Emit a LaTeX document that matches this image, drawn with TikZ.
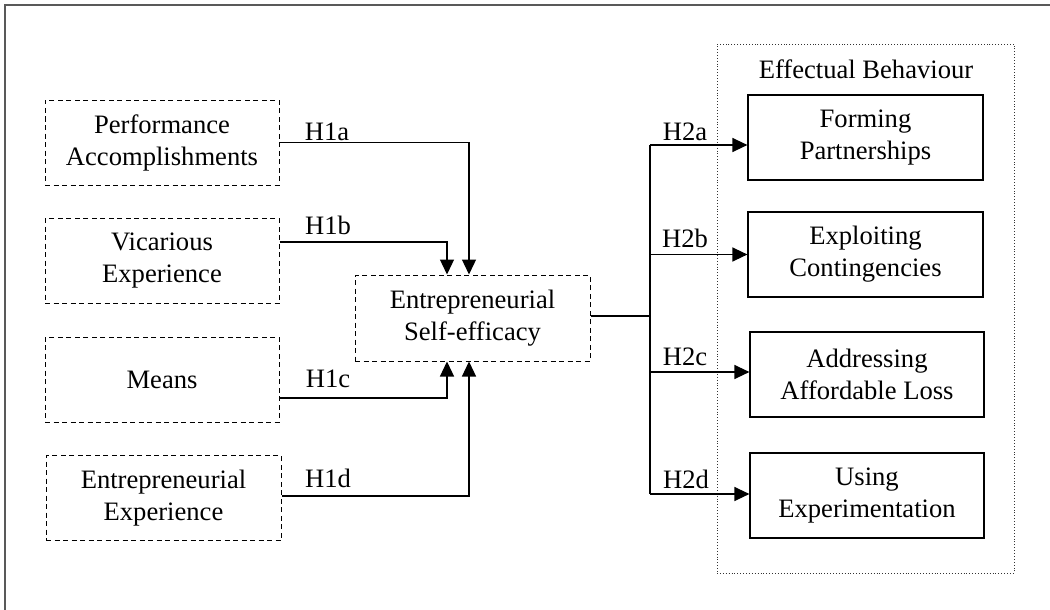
\documentclass[tikz,border=0pt]{standalone}
\usepackage{fontspec}
\setmainfont{Liberation Serif}
\usetikzlibrary{arrows.meta}
\begin{document}
\begin{tikzpicture}[x=1pt,y=-1pt,
  every node/.style={font=\fontsize{26.6}{32}\selectfont, align=center, inner sep=0pt},
  dbox/.style={draw, dash pattern=on 5pt off 3.5pt, line width=1pt, minimum width=234pt, minimum height=85pt},
  sbox/.style={draw, line width=1.2pt, minimum width=235pt, minimum height=85pt},
  conn/.style={line width=1.3pt, -{Triangle[length=15pt,width=14pt]}},
  plain/.style={line width=1.3pt},
  lbl/.style={anchor=base}]
\useasboundingbox (0,0) rectangle (1050,610);
% frame
\draw[line width=1.8pt, black!65] (5,610) -- (5,5) -- (1050,5);
% effectual behaviour group
\node[draw, dotted, line width=0.9pt, black!80, minimum width=297pt, minimum height=529pt] (EB) at (865.5,308.5) {};
\node[lbl] (EBt) at (866,79) {Effectual Behaviour};
% left boxes
\node[dbox] (PA) at (162,142.5) {Performance\\Accomplishments};
\node[dbox] (VE) at (162,261) {Vicarious\\Experience};
\node[dbox] (ME) at (162,379.5) {Means};
\node[dbox, minimum width=235pt] (EE) at (163.5,498) {Entrepreneurial\\Experience};
% centre
\node[dbox, minimum width=235pt, minimum height=86pt] (ESE) at (472.5,318) {Entrepreneurial\\Self-efficacy};
% right boxes
\node[sbox] (FP) at (865.5,137.5) {Forming\\Partnerships};
\node[sbox] (EC) at (865.5,254.5) {Exploiting\\Contingencies};
\node[sbox, minimum width=234pt] (AL) at (867,374.5) {Addressing\\Affordable Loss};
\node[sbox, minimum width=234pt] (UE) at (867,495.5) {Using\\Experimentation};
% helper coordinates
\coordinate (ax1) at (469,0);
\coordinate (ax2) at (447,0);
\coordinate (busTop) at (650,145);
\coordinate (busBot) at (650,494);
% H1 connectors
\draw[conn] (PA.east) -| (ESE.north -| ax1);
\draw[conn] ([yshift=19pt]VE.east) -| (ESE.north -| ax2);
\draw[conn] ([yshift=-18.5pt]ME.east) -| (ESE.south -| ax2);
\draw[conn] ([yshift=2pt]EE.east) -| (ESE.south -| ax1);
% H2 connectors
\draw[plain] ([yshift=2pt]ESE.east) -- ([yshift=2pt]ESE.east -| busTop);
\draw[plain] (busTop) -- (busBot);
\draw[conn] (busTop) -- ([yshift=-7.5pt]FP.west);
\draw[conn] (busTop |- EC.west) -- (EC.west);
\draw[conn] ([yshift=2.5pt]AL.west -| busTop) -- ([yshift=2.5pt]AL.west);
\draw[conn] (busBot) -- ([yshift=1.5pt]UE.west);
% labels
\node[lbl] (L1a) at (327,140) {H1a};
\node[lbl] (L1b) at (328,234) {H1b};
\node[lbl] (L1c) at (328,387) {H1c};
\node[lbl] (L1d) at (328,487) {H1d};
\node[lbl] (L2a) at (685,140) {H2a};
\node[lbl] (L2b) at (685,247) {H2b};
\node[lbl] (L2c) at (685,365) {H2c};
\node[lbl] (L2d) at (686,488) {H2d};
\end{tikzpicture}
\end{document}
